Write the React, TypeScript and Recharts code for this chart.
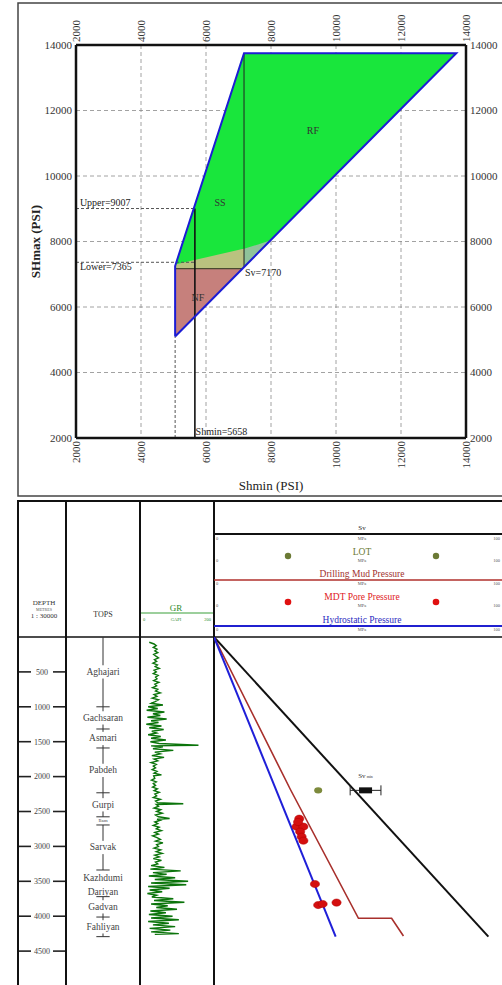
import React from 'react';
import {
  ComposedChart, Area, Line, Scatter, XAxis, YAxis, CartesianGrid,
  ReferenceLine, ReferenceDot, ErrorBar, LabelList,
} from 'recharts';

const SERIF = '"Liberation Serif", "DejaVu Serif", serif';

// ---------- stress polygon (psi) ----------
const psiTicks = [2000, 4000, 6000, 8000, 10000, 12000, 14000];
const shminValue = 5658;
const svValue = 7170;
const upperValue = 9007;
const lowerValue = 7365;
const shminLow = 5050;

const polygonAll = [
  { x: 5050, r: [5100, 7250] },
  { x: 7170, r: [7220, 13750] },
  { x: 13700, r: [13750, 13750] },
];
const tanZone = [
  { x: 5050, r: [7170, 7300] },
  { x: 7120, r: [7170, 7770] },
  { x: 7170, r: [7220, 7780] },
];
const tealZone = [
  { x: 7170, r: [7220, 7780] },
  { x: 7600, r: [7650, 7910] },
  { x: 7990, r: [8040, 8040] },
];
const nfZone = [
  { x: 5050, r: [5100, 7170] },
  { x: 7120, r: [7170, 7170] },
];
const outline = [
  { x: 5050, y: 5100 },
  { x: 5050, y: 7250 },
  { x: 7170, y: 13750 },
  { x: 13700, y: 13750 },
  { x: 5050, y: 5100 },
];
const zoneNames = [
  { x: 9290, y: 11400, t: 'RF' },
  { x: 6430, y: 9200, t: 'SS' },
  { x: 5750, y: 6300, t: 'NF' },
];
const notes = [
  { x: 2120, y: 9180, t: 'Upper=9007' },
  { x: 2120, y: 7230, t: 'Lower=7365' },
  { x: 7200, y: 7040, t: 'Sv=7170' },
  { x: 5680, y: 2190, t: 'Shmin=5658' },
];

// ---------- well log ----------
const depthTicks = [500, 1000, 1500, 2000, 2500, 3000, 3500, 4000, 4500];
const formations = ['Aghajari', 'Gachsaran', 'Asmari', 'Pabdeh', 'Gurpi', 'Ilam', 'Sarvak', 'Kazhdumi', 'Dariyan', 'Gadvan', 'Fahliyan'];
const formationTops = [0, 1000, 1318, 1590, 2232, 2576, 2693, 3338, 3580, 3720, 4012];
const formationBase = 4293;
const boundaryTicks = [1000, 1318, 1590, 2232, 2576, 2693, 3338, 3720, 4012, 4293];

// [depth m, GR gapi]
const grLog = [
  [75, 25], [100, 38], [125, 44], [150, 36], [175, 46], [200, 40], [225, 48], [250, 37], [275, 43], [300, 50],
  [325, 39], [350, 45], [375, 35], [400, 47], [425, 41], [450, 52], [475, 38], [500, 44], [525, 36], [550, 49],
  [575, 42], [600, 46], [625, 37], [650, 51], [675, 40], [700, 45], [725, 34], [750, 48], [775, 42], [800, 55],
  [825, 38], [850, 46], [875, 33], [900, 50], [925, 41], [950, 30], [975, 62], [1000, 22], [1025, 48], [1050, 18],
  [1075, 66], [1100, 35], [1125, 55], [1150, 20], [1175, 72], [1200, 30], [1225, 50], [1250, 17], [1275, 58], [1300, 25],
  [1325, 64], [1350, 32], [1375, 45], [1400, 22], [1425, 56], [1450, 30], [1475, 70], [1500, 28], [1525, 52], [1550, 158],
  [1560, 30], [1575, 62], [1600, 35], [1625, 90], [1650, 40], [1675, 55], [1700, 32], [1725, 65], [1750, 38], [1775, 48],
  [1800, 30], [1825, 44], [1850, 36], [1875, 42], [1900, 33], [1925, 46], [1950, 38], [1975, 58], [1990, 37], [2025, 40],
  [2050, 31], [2075, 44], [2100, 36], [2125, 42], [2150, 34], [2175, 47], [2200, 38], [2225, 52], [2250, 40], [2275, 45],
  [2300, 36], [2325, 55], [2350, 42], [2375, 48], [2390, 117], [2400, 44], [2425, 50], [2450, 38], [2475, 56], [2500, 45],
  [2525, 60], [2550, 42], [2575, 50], [2600, 80], [2610, 46], [2625, 55], [2650, 40], [2675, 48], [2700, 36], [2725, 52],
  [2750, 44], [2775, 58], [2800, 40], [2825, 50], [2850, 34], [2875, 46], [2900, 55], [2925, 42], [2950, 62], [2975, 45],
  [3000, 50], [3025, 38], [3050, 56], [3075, 44], [3100, 60], [3125, 40], [3150, 52], [3175, 36], [3200, 58], [3225, 42],
  [3250, 48], [3275, 30], [3300, 66], [3325, 28], [3350, 110], [3375, 35], [3400, 72], [3425, 24], [3450, 95], [3475, 40],
  [3500, 130], [3525, 30], [3550, 125], [3575, 22], [3600, 80], [3625, 26], [3650, 60], [3675, 20], [3700, 45], [3725, 32],
  [3750, 90], [3775, 38], [3800, 120], [3825, 30], [3850, 75], [3875, 44], [3900, 100], [3925, 28], [3950, 70], [3975, 24],
  [4000, 88], [4025, 30], [4050, 105], [4075, 22], [4100, 78], [4125, 35], [4150, 95], [4175, 26], [4200, 82], [4225, 30],
  [4250, 105], [4260, 40],
];

// pressures, MPa vs depth m
const svLine = [{ p: 0, d: 0 }, { p: 92.7, d: 4293 }];
const hydroLine = [{ p: 0, d: 0 }, { p: 41.1, d: 4293 }];
const mudLine = [{ p: 0, d: 0 }, { p: 25.9, d: 2192 }, { p: 48.8, d: 4030 }, { p: 60.0, d: 4030 }, { p: 64.0, d: 4284 }];
const mdtPoints = [
  { p: 28.8, d: 2603 }, { p: 27.9, d: 2717 }, { p: 30.2, d: 2717 }, { p: 29.1, d: 2789 }, { p: 29.6, d: 2861 },
  { p: 30.2, d: 2918 }, { p: 28.4, d: 2650 }, { p: 34.1, d: 3539 }, { p: 35.2, d: 3840 }, { p: 36.7, d: 3825 },
  { p: 41.4, d: 3805 },
];
const lotPoints = [{ p: 35.2, d: 2197 }];
const svMeasured = [{ p: 51.2, d: 2197, err: 5.2 }];

const RotTick = (props: any) => {
  const { x, y, payload, anchor } = props;
  return (
    <text x={x} y={y} dy="0.35em" transform={`rotate(-90 ${x} ${y})`} textAnchor={anchor}
      fontSize={11} fill="#333" fontFamily={SERIF}>
      {payload.value}
    </text>
  );
};

const yTitle = (props: any) => {
  const vb = props.viewBox || { x: 26, y: 45, width: 50, height: 393 };
  const cx = vb.x + 9;
  const cy = vb.y + vb.height / 2;
  return (
    <text x={cx} y={cy} transform={`rotate(-90 ${cx} ${cy})`} textAnchor="middle" dominantBaseline="central"
      fontSize={13} fontWeight="bold" fill="#222" fontFamily={SERIF}>
      SHmax (PSI)
    </text>
  );
};

const DepthTick = (props: any) => {
  const { x, y, payload } = props;
  return (
    <g>
      <line x1={x - 47} x2={x - 35} y1={y} y2={y} stroke="#222" strokeWidth={1.6} />
      <text x={x - 24} y={y} dy="0.35em" textAnchor="middle" fontSize={8} fill="#444" fontFamily={SERIF}>
        {payload.value}
      </text>
      <line x1={x - 13} x2={x - 1} y1={y} y2={y} stroke="#222" strokeWidth={1.6} />
    </g>
  );
};

const NoMark = () => <g />;
const MdtDot = (props: any) => (
  <ellipse cx={props.cx} cy={props.cy} rx={4.6} ry={3.6} fill="#d40f0f" stroke="#b00000" strokeWidth={0.5} />
);
const LotDot = (props: any) => <ellipse cx={props.cx} cy={props.cy} rx={4} ry={3.2} fill="#7d8a3c" />;
const SvBox = (props: any) => <rect x={props.cx - 6.5} y={props.cy - 3} width={13} height={6} fill="#111" />;
const SvTag = (props: any) => (
  <text x={props.x + (props.width || 0) / 2} y={props.y - 8} textAnchor="middle" fontSize={7} fill="#333" fontFamily={SERIF}>
    Sv<tspan fontSize={4}> min</tspan>
  </text>
);

const StressPolygon = () => (
  <ComposedChart width={502} height={494} margin={{ top: 5, right: 0, bottom: 0, left: 26 }}>
    <CartesianGrid stroke="#8a8a8a" strokeDasharray="4 3" strokeWidth={0.8} />
    <XAxis xAxisId={0} type="number" dataKey="x" domain={[2000, 14000]} ticks={psiTicks} height={56}
      axisLine={{ stroke: '#111', strokeWidth: 2.5 }} tickLine={false} tickSize={0} tickMargin={3}
      tick={<RotTick anchor="end" />} interval={0}
      label={{ value: 'Shmin (PSI)', position: 'insideBottom', offset: 4, fontSize: 13, fill: '#222' }} />
    <XAxis xAxisId="top" orientation="top" type="number" dataKey="x" domain={[2000, 14000]} ticks={psiTicks} height={40}
      axisLine={{ stroke: '#111', strokeWidth: 2.5 }} tickLine={false} tickSize={0} tickMargin={3}
      tick={<RotTick anchor="start" />} interval={0} />
    <YAxis yAxisId={0} type="number" domain={[2000, 14000]} ticks={psiTicks} width={50} interval={0}
      axisLine={{ stroke: '#111', strokeWidth: 2.5 }} tickLine={false} tickSize={0} tickMargin={4}
      tick={{ fontSize: 11, fill: '#333' }} label={{ content: yTitle }} />
    <YAxis yAxisId="right" orientation="right" type="number" domain={[2000, 14000]} ticks={psiTicks} width={36} interval={0}
      axisLine={{ stroke: '#111', strokeWidth: 2.5 }} tickLine={false} tickSize={0} tickMargin={4}
      tick={{ fontSize: 11, fill: '#333' }} />

    <Area data={polygonAll} dataKey="r" type="linear" fill="#19e63c" fillOpacity={1} stroke="none" isAnimationActive={false} activeDot={false} />
    <Area data={tanZone} dataKey="r" type="linear" fill="#b9c27f" fillOpacity={1} stroke="none" isAnimationActive={false} activeDot={false} />
    <Area data={tealZone} dataKey="r" type="linear" fill="#8fc39a" fillOpacity={1} stroke="none" isAnimationActive={false} activeDot={false} />
    <Area data={nfZone} dataKey="r" type="linear" fill="#c6807c" fillOpacity={1} stroke="none" isAnimationActive={false} activeDot={false} />

    <ReferenceLine segment={[{ x: 2000, y: upperValue }, { x: shminValue, y: upperValue }]} stroke="#555" strokeDasharray="3 2" />
    <ReferenceLine segment={[{ x: 2000, y: lowerValue }, { x: shminValue, y: lowerValue }]} stroke="#555" strokeDasharray="3 2" />
    <ReferenceLine segment={[{ x: shminLow, y: 2000 }, { x: shminLow, y: 5100 }]} stroke="#555" strokeDasharray="3 2" />
    <ReferenceLine segment={[{ x: shminLow, y: svValue }, { x: 7120, y: svValue }]} stroke="#4a4a30" strokeWidth={1.3} />
    <ReferenceLine segment={[{ x: svValue, y: 7220 }, { x: svValue, y: 13750 }]} stroke="#222" strokeWidth={1} />
    <ReferenceLine segment={[{ x: shminValue, y: 2000 }, { x: shminValue, y: upperValue }]} stroke="#111" strokeWidth={1.6} />

    <Line data={outline} dataKey="y" type="linear" stroke="#1c1cd4" strokeWidth={2} dot={false} activeDot={false} isAnimationActive={false} />
    {/* same outline on the mirrored axes, invisible, so the top and right axes are active */}
    <Line data={outline} dataKey="y" xAxisId="top" yAxisId="right" type="linear" stroke="none" dot={false} activeDot={false} isAnimationActive={false} />

    {zoneNames.map((z) => (
      <ReferenceDot key={z.t} x={z.x} y={z.y} r={0} fill="none" stroke="none"
        label={{ value: z.t, position: 'center', fontSize: 10, fill: '#333' }} />
    ))}
    {notes.map((n) => (
      <ReferenceDot key={n.t} x={n.x} y={n.y} r={0} fill="none" stroke="none"
        label={{ value: n.t, position: 'right', offset: 0, fontSize: 10, fill: '#222' }} />
    ))}
  </ComposedChart>
);

const formationLabels = formations.map((name, i) => {
  const top = formationTops[i];
  const base = i + 1 < formationTops.length ? formationTops[i + 1] : formationBase;
  return { name, x: 0.5, y: (top + base) / 2, top, base };
});

const FormationLabel = (props: any) => {
  const { x, y, width, height, value, index } = props;
  const f = formationLabels[index];
  const small = f && f.base - f.top < 125;
  return (
    <text x={x + (width || 0) / 2} y={y + (height || 0) / 2} textAnchor="middle" dominantBaseline="central"
      fontSize={small ? 5 : 9.5} fill="#444" fontFamily={SERIF}>
      {value}
    </text>
  );
};

const TopsTrack = () => {
  const segs: number[][] = [];
  formationLabels.forEach((f) => {
    if (f.y - 95 - f.top > 30) segs.push([f.top, f.y - 95]);
    if (f.base - (f.y + 95) > 30) segs.push([f.y + 95, f.base]);
  });
  return (
    <ComposedChart width={122} height={349} margin={{ top: 0, right: 0, bottom: 0, left: 0 }}>
      <XAxis type="number" dataKey="x" domain={[0, 1]} hide />
      <YAxis type="number" dataKey="y" domain={[0, 5000]} reversed width={48} ticks={depthTicks} interval={0}
        axisLine={{ stroke: '#111', strokeWidth: 2 }} tickLine={false} tickSize={0} tickMargin={0}
        tick={<DepthTick />} />
      {segs.map((s, i) => (
        <ReferenceLine key={'v' + i} segment={[{ x: 0.5, y: s[0] }, { x: 0.5, y: s[1] }]} stroke="#333" strokeWidth={1} />
      ))}
      {boundaryTicks.map((d) => (
        <ReferenceLine key={'b' + d} segment={[{ x: 0.41, y: d }, { x: 0.59, y: d }]} stroke="#333" strokeWidth={1} />
      ))}
      <Scatter data={formationLabels} dataKey="y" shape={<NoMark />} isAnimationActive={false}>
        <LabelList dataKey="name" content={<FormationLabel />} />
      </Scatter>
    </ComposedChart>
  );
};

const grData = grLog.map(([d, gr]) => ({ d, gr }));

const GrTrack = () => (
  <ComposedChart width={74} height={349} data={grData} margin={{ top: 0, right: 0, bottom: 0, left: 0 }}>
    <XAxis type="number" dataKey="gr" domain={[0, 200]} hide />
    <YAxis type="number" dataKey="d" domain={[0, 5000]} reversed hide />
    <Line dataKey="d" type="linear" stroke="#0b740b" strokeWidth={1.4} dot={false} activeDot={false} isAnimationActive={false} />
  </ComposedChart>
);

const PressureTrack = () => (
  <ComposedChart width={296} height={349} margin={{ top: 0, right: 0, bottom: 0, left: 0 }}>
    <XAxis type="number" dataKey="p" domain={[0, 100]} hide />
    <YAxis type="number" dataKey="d" domain={[0, 5000]} reversed hide />
    <Line data={svLine} dataKey="d" type="linear" stroke="#111" strokeWidth={2} dot={false} activeDot={false} isAnimationActive={false} />
    <Line data={mudLine} dataKey="d" type="linear" stroke="#a8302c" strokeWidth={1.6} dot={false} activeDot={false} isAnimationActive={false} />
    <Line data={hydroLine} dataKey="d" type="linear" stroke="#1f1fd8" strokeWidth={2} dot={false} activeDot={false} isAnimationActive={false} />
    <Scatter data={lotPoints} dataKey="d" shape={<LotDot />} isAnimationActive={false} />
    <Scatter data={mdtPoints} dataKey="d" shape={<MdtDot />} isAnimationActive={false} />
    <Scatter data={svMeasured} dataKey="d" shape={<SvBox />} isAnimationActive={false}>
      <ErrorBar dataKey="err" direction="x" width={5} stroke="#222" strokeWidth={1} />
      <LabelList dataKey="p" content={<SvTag />} />
    </Scatter>
  </ComposedChart>
);

const scaleRows = [538.5, 560, 583.5, 605, 629];

const Frames = () => (
  <svg width={502} height={985} style={{ position: 'absolute', left: 0, top: 0 }} fontFamily={SERIF}>
    <rect x={18} y={3} width={600} height={493} fill="none" stroke="#444" strokeWidth={1.5} />
    <rect x={18} y={501} width={600} height={600} fill="none" stroke="#111" strokeWidth={2} />
    <line x1={66} x2={66} y1={501} y2={985} stroke="#111" strokeWidth={2} />
    <line x1={140} x2={140} y1={501} y2={985} stroke="#111" strokeWidth={2} />
    <line x1={214} x2={214} y1={501} y2={985} stroke="#111" strokeWidth={2} />
    <line x1={18} x2={502} y1={637} y2={637} stroke="#111" strokeWidth={1.5} />

    <text x={44} y={603} textAnchor="middle" dominantBaseline="central" fontSize={7} fill="#333">DEPTH</text>
    <text x={44} y={609} textAnchor="middle" dominantBaseline="central" fontSize={4} fill="#555">METRES</text>
    <text x={44} y={616} textAnchor="middle" dominantBaseline="central" fontSize={7} fill="#333">1 : 30000</text>
    <text x={103} y={614} textAnchor="middle" dominantBaseline="central" fontSize={8} fill="#333">TOPS</text>

    <text x={176} y={608} textAnchor="middle" dominantBaseline="central" fontSize={9} fill="#2d8a2d">GR</text>
    <line x1={141} x2={213} y1={613} y2={613} stroke="#3aa03a" strokeWidth={1.2} />
    <text x={143} y={619} textAnchor="start" dominantBaseline="central" fontSize={4.5} fill="#2d8a2d">0</text>
    <text x={176} y={619} textAnchor="middle" dominantBaseline="central" fontSize={4.5} fill="#2d8a2d">GAPI</text>
    <text x={211} y={619} textAnchor="end" dominantBaseline="central" fontSize={4.5} fill="#2d8a2d">200</text>

    <text x={362} y={528} textAnchor="middle" dominantBaseline="central" fontSize={7} fill="#222">Sv</text>
    <line x1={214} x2={502} y1={534} y2={534} stroke="#111" strokeWidth={2} />
    <text x={362} y={552} textAnchor="middle" dominantBaseline="central" fontSize={9.5} fill="#6b7a35">LOT</text>
    <circle cx={288} cy={556} r={3.2} fill="#6b7a35" />
    <circle cx={436} cy={556} r={3.2} fill="#6b7a35" />
    <text x={362} y={574} textAnchor="middle" dominantBaseline="central" fontSize={9.5} fill="#a0302e">Drilling Mud Pressure</text>
    <line x1={214} x2={502} y1={580} y2={580} stroke="#b0302c" strokeWidth={1.5} />
    <text x={362} y={597} textAnchor="middle" dominantBaseline="central" fontSize={9.5} fill="#e0201c">MDT Pore Pressure</text>
    <circle cx={288} cy={602} r={3.3} fill="#e01010" />
    <circle cx={436} cy={602} r={3.3} fill="#e01010" />
    <text x={362} y={620} textAnchor="middle" dominantBaseline="central" fontSize={9.5} fill="#2a2ac0">Hydrostatic Pressure</text>
    <line x1={214} x2={502} y1={626} y2={626} stroke="#2020d0" strokeWidth={2} />
    {scaleRows.map((y) => (
      <g key={y}>
        <text x={216} y={y} textAnchor="start" dominantBaseline="central" fontSize={4.5} fill="#555">0</text>
        <text x={362} y={y} textAnchor="middle" dominantBaseline="central" fontSize={4.5} fill="#555">MPa</text>
        <text x={500} y={y} textAnchor="end" dominantBaseline="central" fontSize={4.5} fill="#555">100</text>
      </g>
    ))}
  </svg>
);

export default function App() {
  return (
    <div style={{ position: 'absolute', left: 0, top: 0, width: 502, height: 985, overflow: 'hidden', background: '#fff', fontFamily: SERIF }}>
      <Frames />
      <div style={{ position: 'absolute', left: 0, top: 0 }}>
        <StressPolygon />
      </div>
      <div style={{ position: 'absolute', left: 18, top: 637 }}>
        <TopsTrack />
      </div>
      <div style={{ position: 'absolute', left: 140, top: 637 }}>
        <GrTrack />
      </div>
      <div style={{ position: 'absolute', left: 214, top: 637 }}>
        <PressureTrack />
      </div>
    </div>
  );
}
